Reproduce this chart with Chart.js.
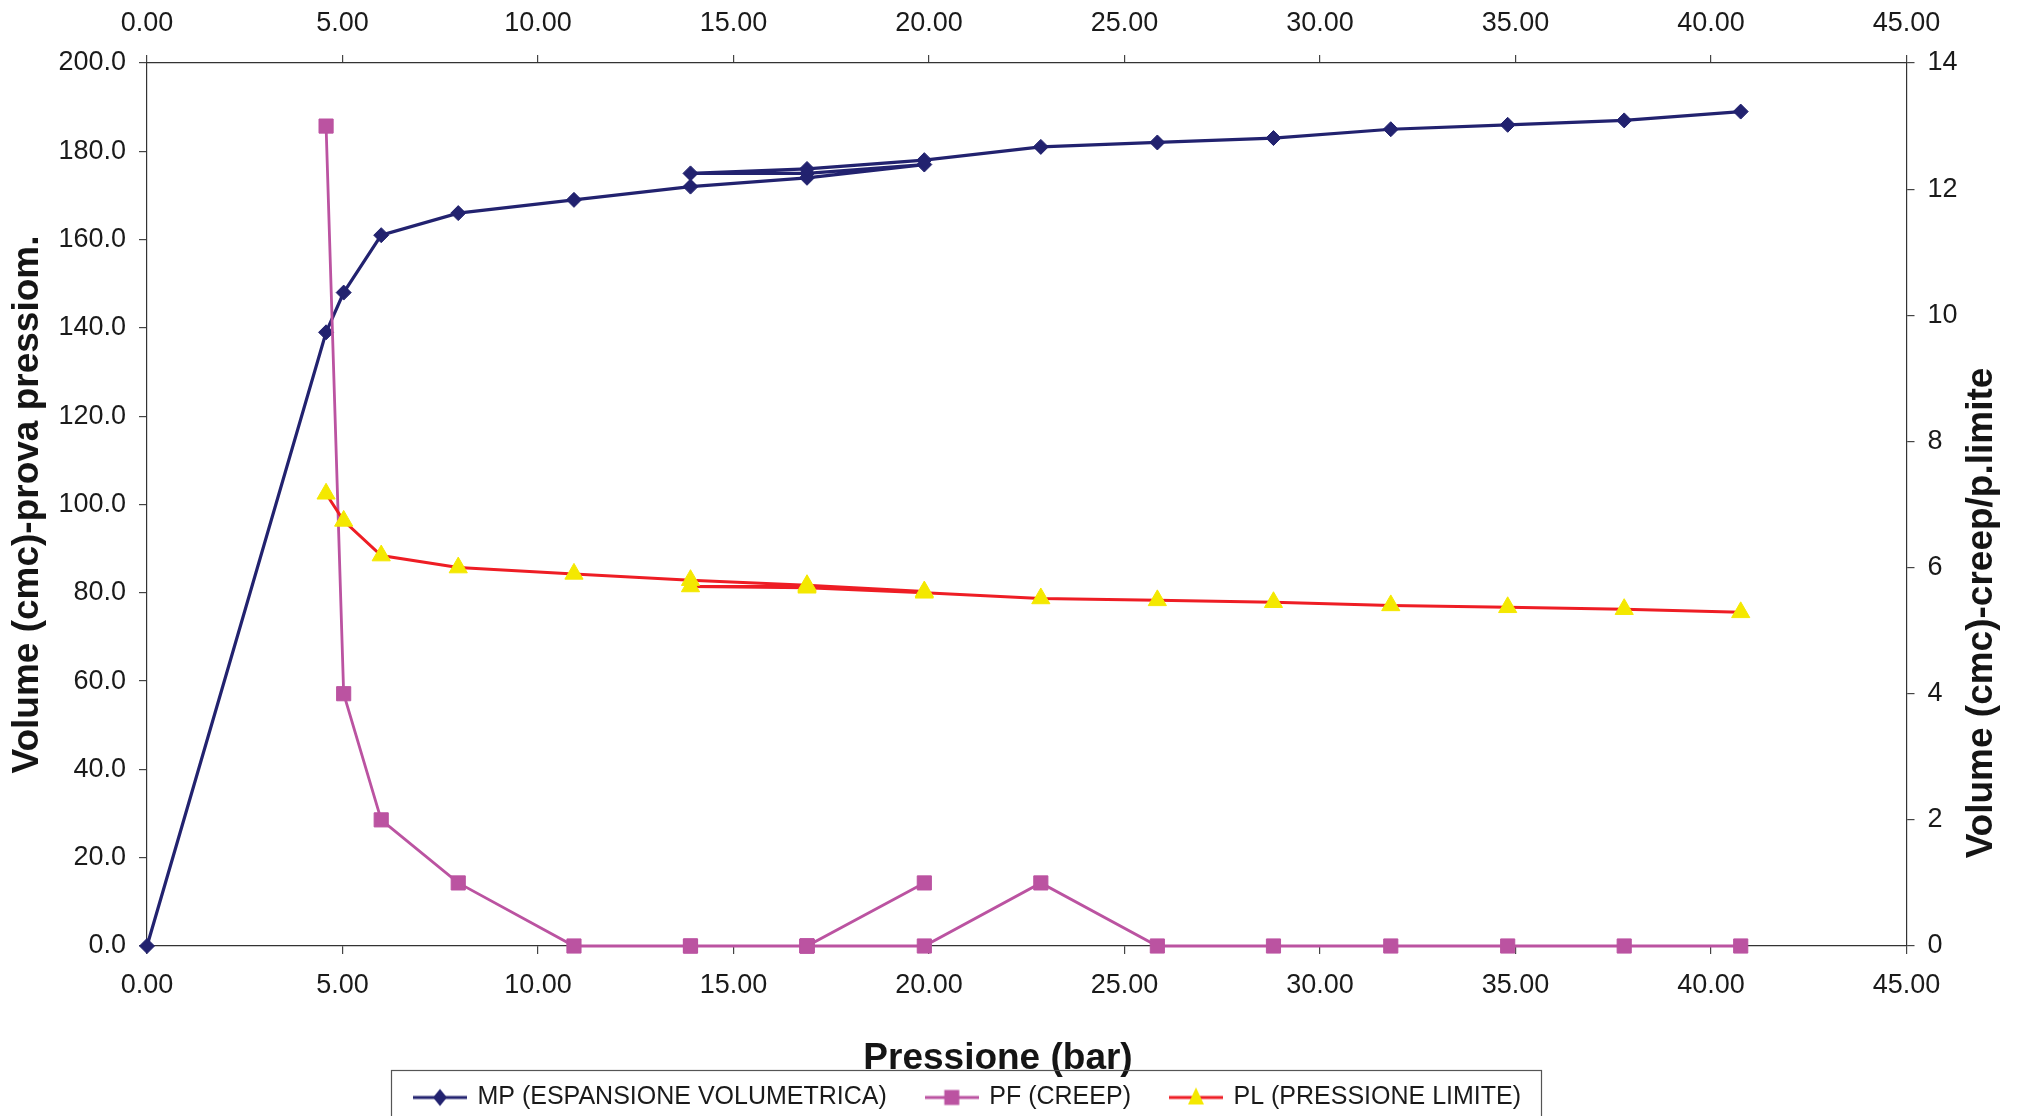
<!DOCTYPE html>
<html>
<head>
<meta charset="utf-8">
<script src="https://cdn.jsdelivr.net/npm/chart.js@4.4.1/dist/chart.umd.min.js"></script>
<style>
html,body{margin:0;padding:0;background:#fff;}
#wrap{width:2022px;height:1116px;position:relative;overflow:hidden;}
</style>
</head>
<body>
<div id="wrap"><canvas id="c"></canvas></div>
<script>
const FONT = "'Liberation Sans', Arial, Helvetica, sans-serif";

// MP series (left axis): pressure (bar) / volume (cmc)
const mpPressure = [0, 4.58, 5.03, 5.99, 7.96, 10.92, 13.90, 16.88, 19.88, 16.88, 13.90, 16.88, 19.88, 22.86, 25.84, 28.81, 31.81, 34.80, 37.78, 40.76];
const mpVolume   = [0, 139, 148, 161, 166, 169, 172, 174, 177, 175, 175, 176, 178, 181, 182, 183, 185, 186, 187, 189];

// PF and PL series (right axis)
const testPressure  = [4.58, 5.03, 5.99, 7.96, 10.92, 13.90, 16.88, 19.88, 16.88, 13.90, 16.88, 19.88, 22.86, 25.84, 28.81, 31.81, 34.80, 37.78, 40.76];
const creepVolume   = [13, 4, 2, 1, 0, 0, 0, 1, 0, 0, 0, 0, 1, 0, 0, 0, 0, 0, 0];
const limitPressure = [7.17, 6.74, 6.19, 6.00, 5.90, 5.80, 5.72, 5.62, 5.70, 5.70, 5.68, 5.60, 5.51, 5.48, 5.45, 5.40, 5.37, 5.34, 5.29];

const seriesLabels = ['MP (ESPANSIONE VOLUMETRICA)', 'PF (CREEP)', 'PL (PRESSIONE LIMITE)'];
const xTitle = 'Pressione (bar)';
const yLeftTitle = 'Volume (cmc)-prova pressiom.';
const yRightTitle = 'Volume (cmc)-creep/p.limite';

const NAVY = '#22226f';
const MAGENTA = '#bb53a1';
const RED = '#ee1d24';
const YELLOW = '#f4e800';

function makeIcon(lineColor, drawMarker) {
  const cv = document.createElement('canvas');
  cv.width = 54; cv.height = 26;
  const g = cv.getContext('2d');
  g.strokeStyle = lineColor; g.lineWidth = 3;
  g.beginPath(); g.moveTo(0, 13); g.lineTo(54, 13); g.stroke();
  drawMarker(g, 27, 13);
  return cv;
}
const icons = [
  makeIcon(NAVY, (g, x, y) => { g.fillStyle = NAVY; g.beginPath(); g.moveTo(x, y - 8.5); g.lineTo(x + 7, y); g.lineTo(x, y + 8.5); g.lineTo(x - 7, y); g.closePath(); g.fill(); }),
  makeIcon(MAGENTA, (g, x, y) => { g.fillStyle = MAGENTA; g.fillRect(x - 7.5, y - 7.5, 15, 15); }),
  makeIcon(RED, (g, x, y) => { g.fillStyle = YELLOW; g.beginPath(); g.moveTo(x, y - 10); g.lineTo(x + 8, y + 7); g.lineTo(x - 8, y + 7); g.closePath(); g.fill(); })
];

const toPts = (xs, ys) => xs.map((x, i) => ({x: x, y: ys[i]}));

const axisGrid = {display: true, drawOnChartArea: false, drawTicks: true, tickLength: 8, color: '#444', lineWidth: 1.2};
const axisBorder = {display: true, color: '#333', width: 1.2};
const tickFont = {family: FONT, size: 27};
const titleFont = {family: FONT, size: 37, weight: 'bold'};

const layoutFix = {
  id: 'layoutFix',
  afterLayout(chart) {
    const lg = chart.legend;
    if (lg) {
      lg.left = 331; lg.right = 1605; lg.top = 1045; lg.bottom = 1116;
      lg.width = lg.right - lg.left; lg.height = lg.bottom - lg.top;
    }
    const t = chart.titleBlock;
    if (t) {
      t.left = 698; t.right = 1298; t.top = 1059 - 22.2; t.bottom = t.top + 44.4;
      t.width = 600; t.height = 44.4;
    }
  },
  afterDraw(chart) {
    const ctx = chart.ctx;
    ctx.save();
    ctx.strokeStyle = '#555'; ctx.lineWidth = 1.2;
    ctx.strokeRect(391.5, 1070.5, 1150, 80);
    ctx.fillStyle = '#151515';
    ctx.font = 'bold 37px ' + FONT;
    ctx.textAlign = 'center'; ctx.textBaseline = 'middle';
    ctx.translate(1982, 613);
    ctx.rotate(-Math.PI / 2);
    ctx.fillText(yRightTitle, 0, 0);
    ctx.restore();
  }
};

new Chart(document.getElementById('c'), {
  type: 'scatter',
  data: {
    datasets: [
      {
        label: seriesLabels[0], data: toPts(mpPressure, mpVolume), yAxisID: 'y', showLine: true,
        borderColor: NAVY, backgroundColor: NAVY, borderWidth: 3.2, tension: 0,
        pointStyle: 'rectRot', pointRadius: 7.5, pointBorderWidth: 1, pointBackgroundColor: NAVY, pointBorderColor: NAVY,
        order: 3, clip: false
      },
      {
        label: seriesLabels[1], data: toPts(testPressure, creepVolume), yAxisID: 'y2', showLine: true,
        borderColor: MAGENTA, backgroundColor: MAGENTA, borderWidth: 2.8, tension: 0,
        pointStyle: 'rect', pointRadius: 10, pointBorderWidth: 1, pointBackgroundColor: MAGENTA, pointBorderColor: MAGENTA,
        order: 2, clip: false
      },
      {
        label: seriesLabels[2], data: toPts(testPressure, limitPressure), yAxisID: 'y2', showLine: true,
        borderColor: RED, backgroundColor: YELLOW, borderWidth: 3, tension: 0,
        pointStyle: 'triangle', pointRadius: 10.5, pointBorderWidth: 1, pointBackgroundColor: YELLOW, pointBorderColor: YELLOW,
        order: 1, clip: false
      }
    ]
  },
  options: {
    responsive: true,
    maintainAspectRatio: false,
    animation: false,
    devicePixelRatio: 1,
    layout: {padding: 0},
    scales: {
      x: {
        type: 'linear', position: 'bottom', min: 0, max: 45,
        ticks: {stepSize: 5, callback: v => Number(v).toFixed(2), font: tickFont, color: '#1a1a1a', padding: 15, maxRotation: 0, autoSkip: false},
        grid: axisGrid, border: axisBorder,
        afterFit(s) { s.height = s.chart.height - 946 - (s.chart.legend ? s.chart.legend.height : 0) - (s.chart.titleBlock ? s.chart.titleBlock.height : 0); }
      },
      x2: {
        type: 'linear', position: 'top', min: 0, max: 45,
        ticks: {stepSize: 5, callback: v => Number(v).toFixed(2), font: tickFont, color: '#1a1a1a', padding: 15, maxRotation: 0, autoSkip: false},
        grid: axisGrid, border: axisBorder,
        afterFit(s) { s.height = 63; }
      },
      y: {
        type: 'linear', position: 'left', min: 0, max: 200,
        ticks: {stepSize: 20, callback: v => Number(v).toFixed(1), font: tickFont, color: '#1a1a1a', padding: 13},
        grid: axisGrid, border: axisBorder,
        title: {display: true, text: yLeftTitle, font: titleFont, color: '#151515', padding: {top: 6, bottom: 0}},
        afterFit(s) { s.width = 147; }
      },
      y2: {
        type: 'linear', position: 'right', min: 0, max: 14,
        ticks: {stepSize: 2, callback: v => String(v), font: tickFont, color: '#1a1a1a', padding: 13},
        grid: axisGrid, border: axisBorder,
        afterFit(s) { s.width = 2022 - 1906.5; }
      }
    },
    plugins: {
      title: {display: true, position: 'bottom', text: xTitle, font: titleFont, color: '#151515', padding: 0},
      legend: {
        display: true, position: 'bottom', maxHeight: 40,
        labels: {
          font: {family: FONT, size: 25}, color: '#1a1a1a', padding: 40,
          usePointStyle: true, pointStyleWidth: 50,
          generateLabels: (chart) => chart.data.datasets.map((ds, i) => ({
            text: ds.label, pointStyle: icons[i], datasetIndex: i,
            fillStyle: 'rgba(0,0,0,0)', strokeStyle: 'rgba(0,0,0,0)', lineWidth: 0, hidden: false, fontColor: '#1a1a1a'
          }))
        }
      },
      tooltip: {enabled: false}
    }
  },
  plugins: [layoutFix]
});
</script>
</body>
</html>
